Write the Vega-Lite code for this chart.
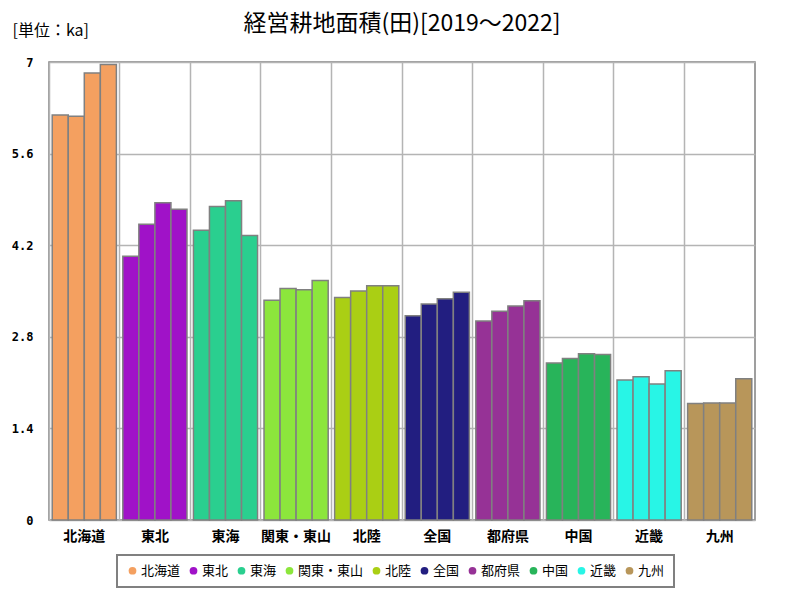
{
  "$schema": "https://vega.github.io/schema/vega-lite/v6.json",
  "autosize": "none",
  "width": 706,
  "height": 458,
  "padding": {"left": 49, "top": 62, "right": 45, "bottom": 80},
  "background": "white",
  "title": {
    "text": "経営耕地面積(田)[2019～2022]",
    "font": "Noto Sans CJK JP",
    "fontSize": 23,
    "fontWeight": "normal",
    "color": "#000000",
    "anchor": "middle",
    "frame": "group",
    "offset": -14
  },
  "data": {
    "values": [
      {"region": "北海道", "year": "2019", "value": 6.19},
      {"region": "北海道", "year": "2020", "value": 6.17},
      {"region": "北海道", "year": "2021", "value": 6.83},
      {"region": "北海道", "year": "2022", "value": 6.96},
      {"region": "東北", "year": "2019", "value": 4.03},
      {"region": "東北", "year": "2020", "value": 4.52},
      {"region": "東北", "year": "2021", "value": 4.85},
      {"region": "東北", "year": "2022", "value": 4.75},
      {"region": "東海", "year": "2019", "value": 4.43},
      {"region": "東海", "year": "2020", "value": 4.79},
      {"region": "東海", "year": "2021", "value": 4.88},
      {"region": "東海", "year": "2022", "value": 4.35},
      {"region": "関東・東山", "year": "2019", "value": 3.36},
      {"region": "関東・東山", "year": "2020", "value": 3.54},
      {"region": "関東・東山", "year": "2021", "value": 3.52},
      {"region": "関東・東山", "year": "2022", "value": 3.66},
      {"region": "北陸", "year": "2019", "value": 3.40},
      {"region": "北陸", "year": "2020", "value": 3.50},
      {"region": "北陸", "year": "2021", "value": 3.58},
      {"region": "北陸", "year": "2022", "value": 3.58},
      {"region": "全国", "year": "2019", "value": 3.12},
      {"region": "全国", "year": "2020", "value": 3.30},
      {"region": "全国", "year": "2021", "value": 3.38},
      {"region": "全国", "year": "2022", "value": 3.48},
      {"region": "都府県", "year": "2019", "value": 3.04},
      {"region": "都府県", "year": "2020", "value": 3.19},
      {"region": "都府県", "year": "2021", "value": 3.27},
      {"region": "都府県", "year": "2022", "value": 3.35},
      {"region": "中国", "year": "2019", "value": 2.40},
      {"region": "中国", "year": "2020", "value": 2.47},
      {"region": "中国", "year": "2021", "value": 2.54},
      {"region": "中国", "year": "2022", "value": 2.53},
      {"region": "近畿", "year": "2019", "value": 2.14},
      {"region": "近畿", "year": "2020", "value": 2.19},
      {"region": "近畿", "year": "2021", "value": 2.08},
      {"region": "近畿", "year": "2022", "value": 2.28},
      {"region": "九州", "year": "2019", "value": 1.78},
      {"region": "九州", "year": "2020", "value": 1.79},
      {"region": "九州", "year": "2021", "value": 1.79},
      {"region": "九州", "year": "2022", "value": 2.16}
    ]
  },
  "mark": {"type": "bar", "stroke": "#808080", "strokeWidth": 1.5, "opacity": 1},
  "encoding": {
    "x": {
      "field": "region",
      "type": "nominal",
      "sort": null,
      "scale": {"paddingInner": 0, "paddingOuter": 0},
      "axis": {
        "title": null,
        "labelAngle": 0,
        "labelFont": "Noto Sans CJK JP",
        "labelFontSize": 14,
        "labelFontWeight": "bold",
        "labelColor": "#000000",
        "labelPadding": 9,
        "ticks": false,
        "domain": false,
        "grid": true,
        "bandPosition": 0,
        "gridColor": "#b4b4b4",
        "gridWidth": 1.5
      }
    },
    "xOffset": {
      "field": "year",
      "type": "nominal",
      "scale": {"paddingInner": 0, "paddingOuter": 0.2}
    },
    "y": {
      "field": "value",
      "type": "quantitative",
      "scale": {"domain": [0, 7], "nice": false},
      "axis": {
        "title": "[単位：ka]",
        "titleAngle": 0,
        "titleAlign": "left",
        "titleBaseline": "middle",
        "titleX": -37,
        "titleY": -32,
        "titleFont": "Noto Sans CJK JP",
        "titleFontSize": 16,
        "titleFontWeight": "normal",
        "titleColor": "#000000",
        "values": [0, 1.4, 2.8, 4.2, 5.6, 7],
        "labelExpr": "'' + datum.value",
        "labelFont": "DejaVu Sans Mono",
        "labelFontSize": 12,
        "labelFontWeight": "bold",
        "labelColor": "#000000",
        "labelPadding": 16,
        "ticks": false,
        "domain": false,
        "grid": true,
        "gridColor": "#b4b4b4",
        "gridWidth": 1.5
      }
    },
    "color": {
      "field": "region",
      "type": "nominal",
      "sort": null,
      "scale": {
        "domain": ["北海道", "東北", "東海", "関東・東山", "北陸", "全国", "都府県", "中国", "近畿", "九州"],
        "range": ["#f4a060", "#a012c8", "#2acf8f", "#8ce63c", "#aacf14", "#221e80", "#963296", "#28b45a", "#28f5e6", "#b8965a"]
      },
      "legend": {
        "title": null,
        "orient": "none",
        "direction": "horizontal",
        "legendX": 68,
        "legendY": 493,
        "symbolType": "circle",
        "symbolSize": 60,
        "symbolStrokeWidth": 0,
        "labelFont": "Noto Sans CJK JP",
        "labelFontSize": 13,
        "labelColor": "#000000",
        "labelOffset": 2,
        "columnPadding": 6,
        "strokeColor": "#808080",
        "padding": 9,
        "fillColor": "white"
      }
    }
  },
  "config": {
    "view": {"stroke": "#808080", "strokeWidth": 1.5},
    "legend": {"symbolOpacity": 1, "strokeWidth": 2}
  }
}
